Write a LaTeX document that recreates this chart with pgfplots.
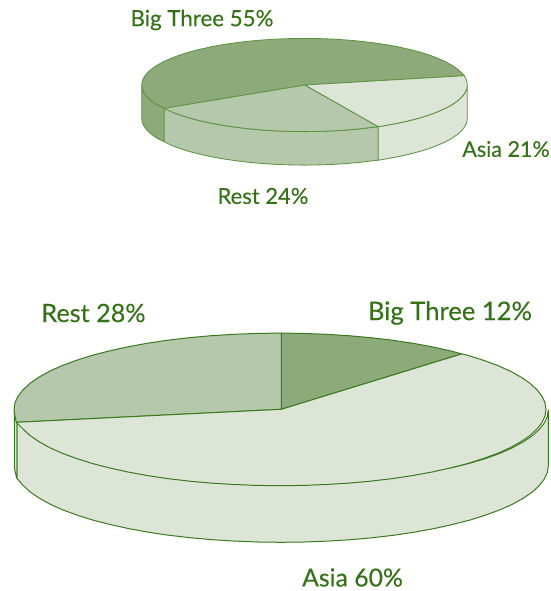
\documentclass[border=0pt]{standalone}
\usepackage{fontspec}
\setmainfont{Lato}[FakeBold=0.2]
\usepackage{pgfplots}
\pgfplotsset{compat=1.18}
\definecolor{cbig}{HTML}{8DAA7A}
\definecolor{crest}{HTML}{B5C8AB}
\definecolor{casia}{HTML}{DDE5D7}
\definecolor{ctxt}{HTML}{337316}
\definecolor{cedge}{HTML}{3A7A1E}
\definecolor{cedgeb}{HTML}{5D9442}
\tikzset{
  tp/.style={draw=cedgeb, line width=0.85pt, line join=round},
  bp/.style={draw=cedge, line width=1pt, line join=round},
  lab/.style={text=ctxt, inner sep=0pt, anchor=center},
}
\begin{document}
\begin{tikzpicture}
\begin{axis}[
  scale only axis, width=550pt, height=591pt,
  xmin=0, xmax=550, ymin=0, ymax=591, y dir=reverse,
  axis lines=none, clip=false,
]
\path (axis cs:0,0) rectangle (axis cs:550,591);
% --- top pie: walls
\addplot[tp, fill=cbig] coordinates {(141.7,85)(142.3,89.1)(144.2,93.1)(147.3,97.1)(151.5,100.9)(157,104.7)(164.3,108.3)(164.3,141.8)(157,138.2)(151.5,134.4)(147.3,130.6)(144.2,126.6)(142.3,122.6)(141.7,118.5)} -- cycle;
\addplot[tp, fill=crest] coordinates {(164.3,108.3)(171.1,111.7)(179.8,115)(189.4,118)(199.9,120.7)(211.1,123.2)(223.1,125.4)(235.7,127.2)(248.8,128.8)(262.4,130)(276.2,130.9)(290.3,131.4)(304.5,131.6)(318.7,131.4)(332.8,130.9)(346.6,130)(360.2,128.8)(373.3,127.2)(378.3,126.7)(378.3,160.2)(373.3,160.7)(360.2,162.3)(346.6,163.5)(332.8,164.4)(318.7,164.9)(304.5,165.1)(290.3,164.9)(276.2,164.4)(262.4,163.5)(248.8,162.3)(235.7,160.7)(223.1,158.9)(211.1,156.7)(199.9,154.2)(189.4,151.5)(179.8,148.5)(171.1,145.2)(164.3,141.8)} -- cycle;
\addplot[tp, fill=casia] coordinates {(378.3,126.7)(385.9,125.4)(397.9,123.2)(409.1,120.7)(419.6,118)(429.2,115)(437.9,111.7)(445.5,108.3)(452,104.7)(457.5,100.9)(461.7,97.1)(464.8,93.1)(466.7,89.1)(467.3,85)(467.3,118.5)(466.7,122.6)(464.8,126.6)(461.7,130.6)(457.5,134.4)(452,138.2)(445.5,141.8)(437.9,145.2)(429.2,148.5)(419.6,151.5)(409.1,154.2)(397.9,156.7)(385.9,158.9)(378.3,160.2)} -- cycle;
% --- top pie: faces
\addplot[tp, fill=cbig] coordinates {(305,85)(464.3,75.7)(461.7,72.9)(457.5,69.1)(452,65.3)(445.5,61.7)(437.9,58.3)(429.2,55)(419.6,52)(409.1,49.3)(397.9,46.8)(385.9,44.6)(373.3,42.8)(360.2,41.2)(346.6,40)(332.8,39.1)(318.7,38.6)(304.5,38.4)(290.3,38.6)(276.2,39.1)(262.4,40)(248.8,41.2)(235.7,42.8)(223.1,44.6)(211.1,46.8)(199.9,49.3)(189.4,52)(179.8,55)(171.1,58.3)(163.5,61.7)(157,65.3)(151.5,69.1)(147.3,72.9)(144.2,76.9)(142.3,80.9)(141.7,85)(142.3,89.1)(144.2,93.1)(147.3,97.1)(151.5,100.9)(157,104.7)(164.3,108.3)} -- cycle;
\addplot[tp, fill=crest] coordinates {(305,85)(164.3,108.3)(171.1,111.7)(179.8,115)(189.4,118)(199.9,120.7)(211.1,123.2)(223.1,125.4)(235.7,127.2)(248.8,128.8)(262.4,130)(276.2,130.9)(290.3,131.4)(304.5,131.6)(318.7,131.4)(332.8,130.9)(346.6,130)(360.2,128.8)(373.3,127.2)(378.3,126.7)} -- cycle;
\addplot[tp, fill=casia] coordinates {(305,85)(378.3,126.7)(385.9,125.4)(397.9,123.2)(409.1,120.7)(419.6,118)(429.2,115)(437.9,111.7)(445.5,108.3)(452,104.7)(457.5,100.9)(461.7,97.1)(464.8,93.1)(466.7,89.1)(467.3,85)(466.7,80.9)(465.5,78)(464.3,75.7)} -- cycle;
% --- bottom pie: walls
\addplot[bp, fill=casia] coordinates {(14.3,409.4)(14.3,466)(15.3,472.7)(17,478.5)(17,422.3)} -- cycle;
\addplot[bp, fill=casia] coordinates {(451,467.8)(468.3,463.6)(484.8,458.8)(499.3,453.6)(512,448)(523,442)(532,436)(539,429.7)(544.2,423.2)(547.3,416.7)(548.3,410)(548.3,466)(547.3,472.7)(544.2,479.2)(539.2,485.7)(532.2,492.1)(523.3,498.2)(512.5,504.2)(500,509.8)(485.8,515)(470.1,520)(452.9,524.4)(434.4,528.5)(414.8,532.1)(394.1,535.2)(372.6,537.7)(350.4,539.7)(327.7,541.1)(304.6,542)(281.3,542.3)(258,542)(234.9,541.1)(212.2,539.7)(190,537.7)(168.5,535.2)(147.8,532.1)(128.2,528.5)(109.7,524.4)(92.5,520)(76.8,515)(62.6,509.8)(50.1,504.2)(39.3,498.2)(30.4,492.1)(23.4,485.7)(17,478.5)(17,422.3)} -- cycle;
% --- bottom pie: faces
\addplot[bp, fill=cbig] coordinates {(281.3,409.3)(281.3,333.1)(303.2,333.4)(326.2,334.3)(348.8,335.7)(371,337.7)(392.4,340.2)(413,343.3)(432.6,346.9)(451,351)(461.7,353.9)} -- cycle;
\addplot[bp, fill=crest] coordinates {(281.3,409.3)(281.3,333.1)(280,333.1)(256.8,333.4)(233.8,334.3)(211.2,335.7)(189,337.7)(167.6,340.2)(147,343.3)(127.4,346.9)(109,351)(91.9,355.4)(76.2,360.4)(62.1,365.6)(49.6,371.2)(38.9,377.2)(30,383.3)(23.1,389.7)(18,396.2)(15,402.7)(14,409.4)(15,416.1)(16.3,422.3)} -- cycle;
\addplot[bp, fill=casia] coordinates {(281.3,409.3)(16.3,422.3)(23.1,429.1)(30,435.5)(38.9,441.6)(49.6,447.6)(62.1,453.2)(76.2,458.4)(91.9,463.4)(109,467.8)(127.4,471.9)(147,475.5)(167.6,478.6)(189,481.1)(211.2,483.1)(233.8,484.5)(256.8,485.4)(280,485.7)(303.2,485.4)(326.2,484.5)(348.8,483.1)(371,481.1)(392.4,478.6)(413,475.5)(432.6,471.9)(451,467.8)(468.1,463.4)(483.8,458.4)(497.9,453.2)(510.4,447.6)(521.1,441.6)(530,435.5)(536.9,429.1)(542,422.6)(545,416.1)(546,409.4)(545,402.7)(542,396.2)(536.9,389.7)(530,383.3)(521.1,377.2)(510.4,371.2)(497.9,365.6)(483.8,360.4)(468.1,355.4)(461.7,353.9)} -- cycle;
% --- labels
\node[lab, font=\fontsize{22.3}{24}\selectfont] at (axis cs:202,20) {Big Three 55\%};
\node[lab, font=\fontsize{21.5}{24}\selectfont] at (axis cs:506,149) {Asia 21\%};
\node[lab, font=\fontsize{22}{24}\selectfont] at (axis cs:263,196) {Rest 24\%};
\node[lab, font=\fontsize{25.2}{30}\selectfont] at (axis cs:93.5,313) {Rest 28\%};
\node[lab, font=\fontsize{25.6}{30}\selectfont] at (axis cs:450,313) {Big Three 12\%};
\node[lab, font=\fontsize{24.8}{30}\selectfont] at (axis cs:352.5,577.5) {Asia 60\%};
\end{axis}
\end{tikzpicture}
\end{document}
